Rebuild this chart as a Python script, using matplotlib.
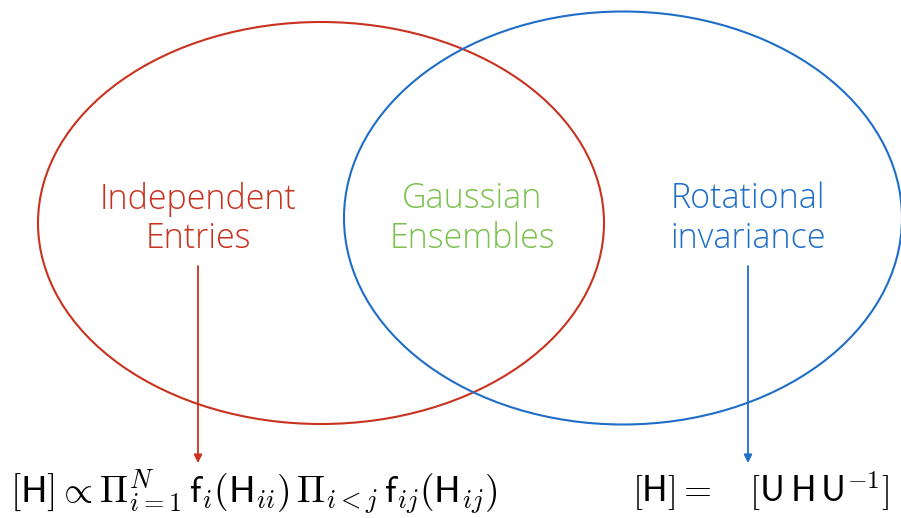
import matplotlib.pyplot as plt
from matplotlib.patches import Ellipse

plt.rcParams['font.family'] = ['Open Sans', 'DejaVu Sans']
plt.rcParams['mathtext.fontset'] = 'cm'

red = '#c8321e'
green = '#7dc24f'
blue = '#1e6ec8'

# set labels
labels = ['Independent\nEntries', 'Gaussian\nEnsembles', 'Rotational\ninvariance']
label_x = [198, 472, 748]
label_colors = [red, green, blue]

formula_left = r'$[\mathsf{H}] \propto \Pi_{i=1}^{N}\, \mathsf{f}_i(\mathsf{H}_{ii})\, \Pi_{i<j}\, \mathsf{f}_{ij}(\mathsf{H}_{ij})$'
formula_right = r'$[\mathsf{H}] =\ \ \ [\mathsf{U\,H\,U}^{-1}]$'

fig = plt.figure(figsize=(9.01, 5.18), dpi=100)
ax = fig.add_axes([0, 0, 1, 1])
ax.set_xlim(0, 901)
ax.set_ylim(518, 0)
ax.axis('off')

ax.add_patch(Ellipse((321, 223), 566, 402, fill=False, ec=red, lw=1.5))
ax.add_patch(Ellipse((623, 218), 558, 413, fill=False, ec=blue, lw=1.5))

for lab, x, c in zip(labels, label_x, label_colors):
    ax.text(x, 219, lab, color=c, fontsize=24.5, ha='center', va='center',
            linespacing=1.2, fontweight=300)

for x, c in [(198, red), (748, blue)]:
    ax.annotate('', xy=(x, 463), xytext=(x, 266),
                arrowprops=dict(arrowstyle='-|>', color=c, lw=1.3,
                                mutation_scale=12, shrinkA=0, shrinkB=0))

ax.text(10, 492, formula_left, fontsize=27, ha='left', va='center', color='black')
ax.text(632, 492, formula_right, fontsize=26, ha='left', va='center', color='black')

fig.savefig('out.png', dpi=100)
